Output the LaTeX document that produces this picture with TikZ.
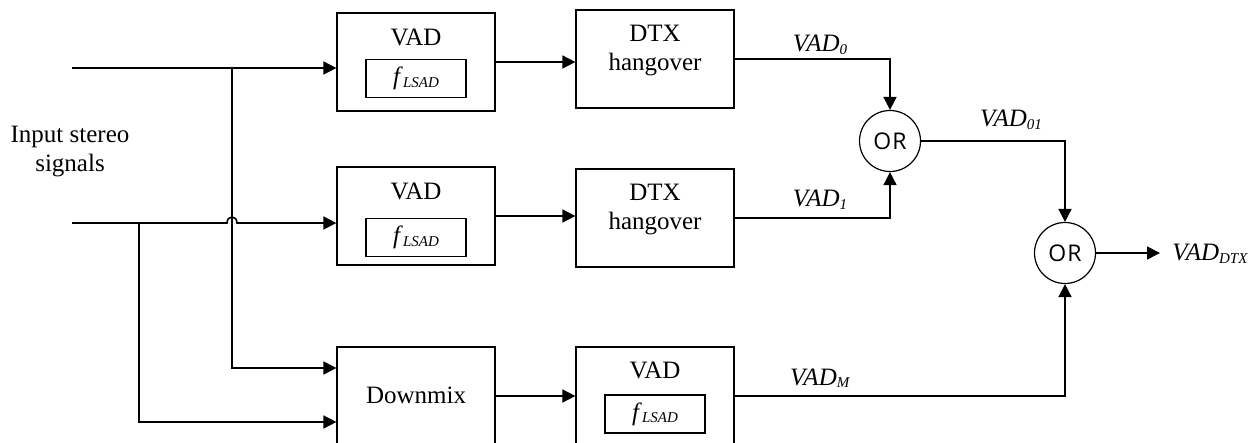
\documentclass[tikz,border=0pt]{standalone}
\usepackage{fontspec}
\setmainfont{Liberation Serif}
\newfontfamily\orfont[LetterSpace=5]{Open Sans}
\usetikzlibrary{arrows.meta}
\newcommand{\lsub}[1]{\raisebox{-1.2pt}{\fontsize{7.5}{8}\selectfont #1}}
\begin{document}
\begin{tikzpicture}[x=0.5pt,y=-0.5pt,
  blk/.style={draw,line width=0.6pt,minimum width=79pt,minimum height=49pt,inner sep=0pt},
  inbox/.style={draw,line width=0.6pt,minimum width=50pt,minimum height=19pt,inner sep=0pt,font=\fontsize{12.5}{14.5}\selectfont},
  gate/.style={draw,circle,line width=0.6pt,minimum size=30.5pt,inner sep=0pt,font=\fontsize{11.5}{12}\orfont},
  wire/.style={line width=0.8pt},
  arr/.style={wire,-{Triangle[length=6.5pt,width=6.5pt]}},
  txt/.style={font=\fontsize{12.5}{14.5}\selectfont,inner sep=0pt},
]
\useasboundingbox (0,0) rectangle (1257,443);
\clip (0,0) rectangle (1257,443);

% blocks
\node[blk] (vadA) at (416,62) {};
\node[blk] (vadB) at (416,216) {};
\node[blk] (dmx) at (416,396) {};
\node[blk] (dtxA) at (655,59) {};
\node[blk] (dtxB) at (655,218) {};
\node[blk] (vadC) at (655,396) {};

% block texts
\node[txt] (vadAt) at (416,37) {VAD};
\node[inbox] (lsadA) at (416,78.5) {\textit{f}\lsub{\textit{LSAD}}};
\node[txt] (vadBt) at (416,191) {VAD};
\node[inbox] (lsadB) at (416,237.5) {\textit{f}\lsub{\textit{LSAD}}};
\node[txt] (dmxt) at (416,395.5) {Downmix};
\node[txt,align=center] (dtxAt) at (655,51) {DTX\\hangover};
\node[txt,align=center] (dtxBt) at (655,210) {DTX\\hangover};
\node[txt] (vadCt) at (655,370) {VAD};
\node[inbox] (lsadC) at (655,414) {\textit{f}\lsub{\textit{LSAD}}};

% OR gates
\node[gate] (orA) at (890,141) {OR};
\node[gate] (orB) at (1065,253) {OR};

% input label
\node[txt,align=center] (inp) at (70,152) {Input stereo\\signals};

% inputs
\coordinate (in1) at (72,68);
\coordinate (in2) at (72,223);
\coordinate (j1) at (232,68);
\coordinate (j2) at (139,223);
\coordinate (h1) at (227,223);
\coordinate (h2) at (237,223);
\draw[arr] (in1) -- (in1 -| vadA.west);
\draw[arr] (in2) -- (h1) .. controls (227,215) and (237,215) .. (h2) -- (h2 -| vadB.west);
\draw[arr] (j1) |- ([yshift=14pt]dmx.west);
\draw[arr] (j2) |- ([yshift=-13pt]dmx.west);

% chain
\draw[arr] (vadA.east) -- (vadA.east -| dtxA.west);
\draw[arr] (vadB.east) -- (vadB.east -| dtxB.west);
\draw[arr] (dmx.east) -- (vadC.west);

\draw[arr] (dtxA.east) -| (orA.north);
\draw[arr] (dtxB.east) -| (orA.south);
\draw[arr] (orA.east) -| (orB.north);
\draw[arr] (vadC.east) -| (orB.south);
\coordinate (out) at (1160,253);
\draw[arr] (orB.east) -- (out);

% labels
\node[txt,anchor=base] (l0) at (820,52) {\textit{VAD}\lsub{\textit{0}}};
\node[txt,anchor=base] (l1) at (820,207) {\textit{VAD}\lsub{\textit{1}}};
\node[txt,anchor=base] (lm) at (820,385) {\textit{VAD}\lsub{\textit{M}}};
\node[txt,anchor=base] (l01) at (1011,127) {\textit{VAD}\lsub{\textit{01}}};
\node[txt,anchor=base west] (ldtx) at (1172,261) {\textit{VAD}\lsub{\textit{DTX}}};
\end{tikzpicture}
\end{document}
